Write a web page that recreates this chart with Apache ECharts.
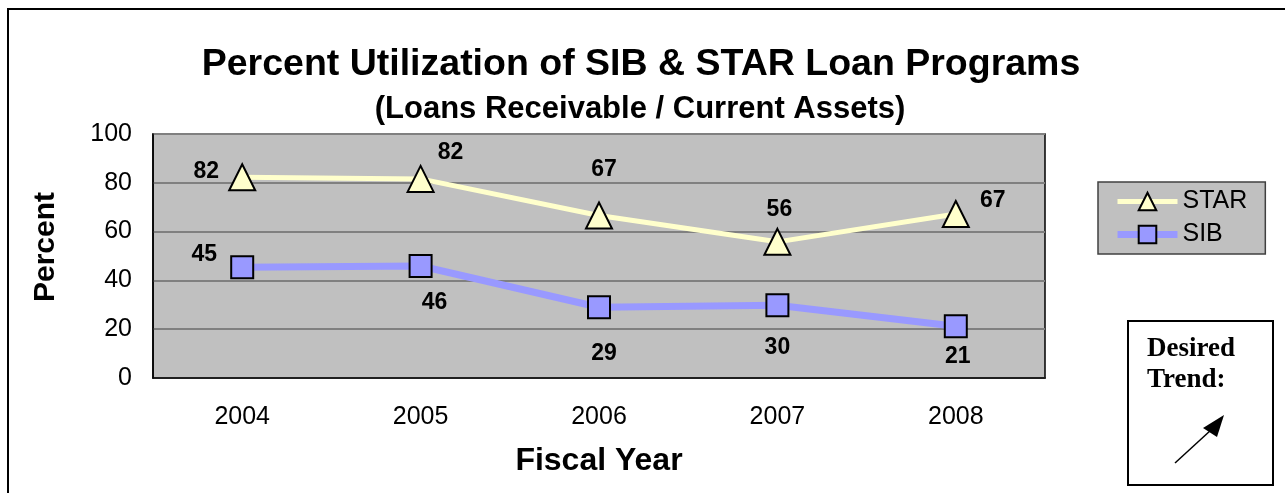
<!DOCTYPE html>
<html>
<head>
<meta charset="utf-8">
<script src="https://cdn.jsdelivr.net/npm/echarts@6/dist/echarts.min.js"></script>
<style>
html,body{margin:0;padding:0;background:#fff;}
#chart{width:1285px;height:493px;}
</style>
</head>
<body>
<div id="chart"></div>
<script>
// ---- data ----
const categories = ['2004', '2005', '2006', '2007', '2008'];
const starValues = [82.3, 81.6, 66.6, 55.8, 67.2];
const sibValues  = [45.4, 45.9, 29.0, 29.8, 21.2];
const yTicks = [0, 20, 40, 60, 80, 100];

// ---- label placement (style only) ----
const starLabelOffsets = [[-36, -6], [30, -26], [5, -46], [2, -32], [37, -13]];
const sibLabelOffsets  = [[-38, -13], [14, 37], [5, 46], [0, 42], [2, 30]];

const FONT = "'Liberation Sans', Arial, sans-serif";

function withLabels(values, offsets) {
  return values.map((v, i) => ({
    value: v,
    label: { offset: offsets[i] }
  }));
}

const chart = echarts.init(document.getElementById('chart'), null, {renderer: 'canvas'});

const option = {
  animation: false,
  backgroundColor: '#ffffff',
  title: [
    {
      text: 'Percent Utilization of SIB & STAR Loan Programs',
      left: 641, top: 46, textAlign: 'center', padding: 0,
      textStyle: {fontFamily: FONT, fontWeight: 'bold', fontSize: 37.5, color: '#000'}
    },
    {
      text: '(Loans Receivable / Current Assets)',
      left: 640, top: 94, textAlign: 'center', padding: 0,
      textStyle: {fontFamily: FONT, fontWeight: 'bold', fontSize: 31, color: '#000'}
    }
  ],
  grid: {
    left: 153, right: 240, top: 134, bottom: 115,
    show: true, backgroundColor: '#c0c0c0', borderColor: '#000', borderWidth: 1.5
  },
  legend: {
    left: 1098, top: 182,
    orient: 'vertical',
    padding: [7, 18, 7, 16],
    itemGap: 8,
    itemWidth: 60, itemHeight: 22,
    backgroundColor: '#c0c0c0',
    borderColor: '#404040', borderWidth: 1.5,
    textStyle: {fontFamily: FONT, fontSize: 25, color: '#000'},
    lineStyle: {width: 'inherit'},
    data: ['STAR', 'SIB']
  },
  xAxis: {
    type: 'category',
    data: categories,
    boundaryGap: true,
    name: 'Fiscal Year',
    nameLocation: 'middle',
    nameGap: 67,
    nameTextStyle: {fontFamily: FONT, fontWeight: 'bold', fontSize: 32, color: '#000'},
    axisLine: {show: true, lineStyle: {color: '#000', width: 1.5}},
    axisTick: {show: false},
    axisLabel: {fontFamily: FONT, fontSize: 25, color: '#000', margin: 27},
    splitLine: {show: false}
  },
  yAxis: {
    type: 'value',
    min: 0, max: 100, interval: 20,
    name: 'Percent',
    nameLocation: 'middle',
    nameGap: 92,
    nameTextStyle: {fontFamily: FONT, fontWeight: 'bold', fontSize: 30, color: '#000', padding: [0, 0, 0, 18]},
    axisLine: {show: true, lineStyle: {color: '#000', width: 1.5}},
    axisTick: {show: false},
    axisLabel: {
      fontFamily: FONT, fontSize: 25, color: '#000', margin: 21,
      formatter: v => (yTicks.indexOf(v) >= 0 ? String(v) : '')
    },
    splitLine: {show: true, lineStyle: {color: '#808080', width: 2}}
  },
  series: [
    {
      name: 'STAR',
      type: 'line',
      data: withLabels(starValues, starLabelOffsets),
      symbol: 'triangle',
      symbolSize: [26, 26],
      lineStyle: {color: '#ffffcc', width: 5},
      itemStyle: {color: '#ffffcc', borderColor: '#000', borderWidth: 2},
      label: {
        show: true, position: 'inside',
        fontFamily: FONT, fontWeight: 'bold', fontSize: 23, color: '#000',
        formatter: p => Math.round(p.value)
      },
      z: 3
    },
    {
      name: 'SIB',
      type: 'line',
      data: withLabels(sibValues, sibLabelOffsets),
      symbol: 'rect',
      symbolSize: 22,
      lineStyle: {color: '#9999ff', width: 7},
      itemStyle: {color: '#9999ff', borderColor: '#000', borderWidth: 2},
      label: {
        show: true, position: 'inside',
        fontFamily: FONT, fontWeight: 'bold', fontSize: 23, color: '#000',
        formatter: p => Math.round(p.value)
      },
      z: 3
    }
  ],
  graphic: [
    {
      type: 'rect', silent: true, z: -10,
      shape: {x: 8, y: 9, width: 1400, height: 600},
      style: {fill: 'none', stroke: '#000', lineWidth: 2}
    },
    {
      type: 'rect', silent: true,
      shape: {x: 1128, y: 321, width: 145, height: 164},
      style: {fill: '#fff', stroke: '#000', lineWidth: 2}
    },
    {
      type: 'text', silent: true,
      left: 1147, top: 334,
      style: {
        text: 'Desired\nTrend:',
        font: 'bold 27px "Liberation Serif", "Times New Roman", serif',
        lineHeight: 31, fill: '#000'
      }
    },
    {
      type: 'line', silent: true,
      shape: {x1: 1175, y1: 463, x2: 1211, y2: 430},
      style: {stroke: '#000', lineWidth: 1.5}
    },
    {
      type: 'polygon', silent: true,
      shape: {points: [[1224, 415], [1203, 428], [1217, 437]]},
      style: {fill: '#000'}
    }
  ]
};

chart.setOption(option);
</script>
</body>
</html>
